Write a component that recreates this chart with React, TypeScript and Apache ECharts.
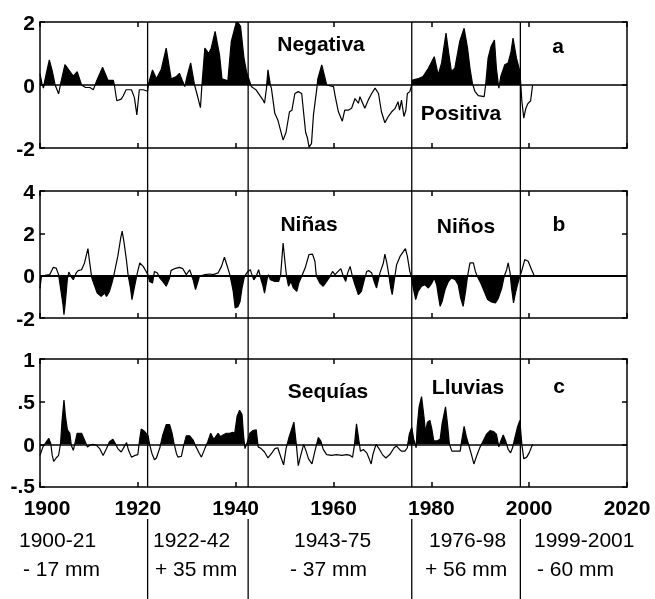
import React, { useEffect, useRef } from "react";
import * as echarts from "echarts";

// Panel a: [year, value]
const seriesA: [number, number][] = [
  [1900.0, 0.35], [1900.4, 0.05], [1900.7, -0.1], [1901.2, 0.3], [1901.9, 0.8], [1902.5, 0.45],
  [1903.1, 0.0], [1903.8, -0.28], [1904.3, 0.1], [1905.1, 0.65], [1905.8, 0.5], [1906.8, 0.28],
  [1907.6, 0.42], [1908.5, 0.0], [1909.3, -0.08], [1910.2, -0.08], [1910.9, -0.15], [1911.5, 0.1],
  [1912.8, 0.56], [1913.9, 0.15], [1915.0, 0.15], [1915.2, 0.0], [1915.7, -0.5], [1916.6, -0.45],
  [1917.0, -0.35], [1917.6, -0.15], [1918.7, -0.15], [1919.3, -0.4], [1919.8, -0.95], [1920.3, -0.15],
  [1921.1, -0.15], [1922.0, -0.2],
  [1922.2, 0.05], [1923.0, 0.48], [1923.8, 0.2], [1924.8, 0.5], [1925.8, 1.17], [1926.8, 0.2],
  [1927.9, 0.27], [1928.5, 0.37], [1929.2, 0.1], [1929.6, -0.05], [1930.1, 0.3], [1930.8, 0.7],
  [1931.6, 0.0], [1932.2, -0.35], [1932.8, -0.72], [1933.1, 0.0], [1933.7, 1.17], [1934.5, 1.0],
  [1935.0, 1.17], [1935.8, 1.7], [1936.7, 0.96], [1937.2, 0.2], [1938.4, 0.13], [1939.1, 1.38],
  [1939.9, 1.86], [1940.4, 2.0], [1941.0, 1.86], [1941.7, 0.85], [1942.2, 0.43], [1943.0, 0.05],
  [1943.2, -0.05], [1944.2, -0.16], [1945.6, -0.48], [1945.9, -0.58], [1946.3, -0.1], [1946.6, 0.48],
  [1947.1, 0.0], [1947.3, -0.1], [1948.0, -0.9], [1948.6, -1.1], [1949.7, -1.75], [1950.3, -1.5],
  [1951.0, -0.85], [1951.5, -0.8], [1952.1, -0.27], [1952.8, -0.21], [1953.5, -0.27], [1953.8, -0.74],
  [1954.3, -1.5], [1954.7, -1.7], [1955.0, -1.97], [1955.5, -1.86], [1955.9, -0.95], [1956.6, -0.1],
  [1956.8, 0.2], [1957.6, 0.64], [1958.3, 0.2], [1958.6, 0.0], [1960.0, -0.05], [1960.3, -0.32],
  [1961.0, -0.85], [1961.8, -1.15], [1962.3, -0.8], [1963.0, -0.8], [1963.7, -0.74], [1964.4, -0.43],
  [1965.1, -0.58], [1965.4, -0.37], [1966.4, -0.74], [1967.1, -0.48], [1967.8, -0.27], [1968.5, -0.1],
  [1969.2, -0.27], [1969.8, -0.85], [1970.5, -1.2], [1971.2, -1.0], [1971.9, -0.85], [1972.6, -0.74],
  [1973.2, -0.53], [1973.5, -0.8], [1973.9, -0.48], [1974.4, -1.0], [1974.8, -0.8], [1975.1, -0.27],
  [1975.6, -0.21], [1976.0, 0.0],
  [1976.2, 0.16], [1977.3, 0.2], [1978.3, 0.27], [1979.4, 0.53], [1980.6, 0.9], [1981.4, 0.32],
  [1982.1, 0.7], [1983.0, 1.65], [1983.6, 0.96], [1984.1, 0.43], [1984.8, 0.53], [1985.8, 1.38],
  [1986.7, 1.8], [1987.4, 1.17], [1987.9, 0.53], [1988.4, 0.05], [1988.9, -0.2], [1989.6, -0.34],
  [1990.8, -0.37], [1991.1, 0.0], [1991.6, 0.85], [1992.2, 1.22], [1992.9, 1.43], [1993.3, 0.53],
  [1993.8, -0.1], [1994.2, 0.27], [1995.0, 0.64], [1995.7, 0.7], [1996.3, 1.06], [1996.7, 1.49],
  [1997.4, 0.85], [1998.1, 0.43], [1998.3, 0.0], [1998.5, -0.5], [1998.9, -1.05], [1999.3, -0.75],
  [1999.7, -0.6], [2000.3, -0.5], [2000.7, 0.0],
];

// Panel b
const seriesB: [number, number][] = [
  [1900.0, -0.6], [1900.3, 0.0], [1901.0, 0.02], [1902.0, 0.05], [1902.7, 0.39], [1903.3, 0.36],
  [1903.8, 0.05], [1904.2, -0.58], [1904.7, -1.37], [1904.9, -1.84], [1905.2, -1.22], [1905.6, -0.14],
  [1905.9, 0.17], [1906.3, -0.03], [1906.8, -0.19], [1907.4, 0.13], [1907.8, 0.24], [1908.5, 0.28],
  [1909.1, 0.6], [1909.8, 1.28], [1910.0, 0.9], [1910.4, 0.2], [1910.6, -0.11], [1911.2, -0.5],
  [1911.7, -0.82], [1912.5, -0.98], [1913.2, -0.82], [1913.6, -0.98], [1914.2, -0.74], [1914.7, -0.35],
  [1915.1, 0.02], [1915.9, 0.91], [1916.5, 1.78], [1916.8, 2.1], [1917.2, 1.54], [1917.7, 0.68],
  [1918.0, 0.05], [1918.5, -0.58], [1918.8, -1.13], [1919.4, -0.43], [1919.9, 0.13], [1920.4, 0.6],
  [1921.1, 0.44], [1921.7, 0.2], [1922.1, 0.02], [1922.4, -0.27], [1923.0, -0.35], [1923.4, 0.2],
  [1924.0, 0.13], [1924.5, -0.11], [1925.1, -0.27], [1925.8, -0.5], [1926.5, -0.11], [1926.8, 0.25],
  [1927.5, 0.33], [1928.5, 0.39], [1929.2, 0.33], [1929.9, 0.05], [1930.6, 0.28], [1930.9, 0.08],
  [1931.3, -0.19], [1931.8, -0.66], [1932.2, -0.35], [1932.6, -0.03], [1933.7, 0.05], [1934.7, 0.08],
  [1935.4, 0.05], [1936.4, 0.13], [1937.1, 0.44], [1937.7, 0.87], [1938.4, 0.36], [1938.8, 0.05],
  [1939.1, -0.27], [1939.5, -0.74], [1939.9, -1.53], [1940.5, -1.45], [1940.9, -1.22], [1941.3, -0.58],
  [1941.8, -0.03], [1942.5, 0.2], [1943.0, 0.28], [1943.2, 0.13], [1943.7, -0.2], [1944.2, -0.03],
  [1944.7, 0.28], [1945.1, -0.11], [1945.6, -0.5], [1945.9, -0.82], [1946.4, -0.19], [1946.7, 0.05],
  [1947.1, -0.19], [1948.0, -0.27], [1948.8, -0.27], [1949.2, 0.05], [1949.7, 1.54], [1950.1, 0.6],
  [1950.4, -0.03], [1950.8, -0.5], [1951.3, -0.27], [1951.8, -0.58], [1952.5, -0.74], [1952.9, -0.35],
  [1953.5, -0.03], [1954.2, 0.36], [1955.0, 1.0], [1955.7, 1.02], [1956.2, 0.68], [1956.5, -0.03],
  [1957.2, -0.35], [1957.9, -0.5], [1958.6, -0.27], [1959.3, -0.03], [1959.8, 0.2], [1960.3, 0.05],
  [1961.1, 0.24], [1961.5, 0.33], [1962.0, -0.03], [1962.5, -0.27], [1962.9, 0.13], [1963.4, 0.44],
  [1963.7, 0.13], [1964.0, -0.14], [1964.5, -0.5], [1965.1, -0.9], [1965.7, -0.74], [1966.3, -0.19],
  [1966.8, 0.2], [1967.2, 0.24], [1967.8, 0.13], [1968.3, -0.27], [1968.8, -0.58], [1969.1, -0.27],
  [1969.5, 0.13], [1970.2, 0.6], [1970.5, 1.02], [1970.9, 0.6], [1971.3, 0.05], [1971.7, -0.58],
  [1972.0, -0.9], [1972.4, -0.27], [1972.9, 0.52], [1973.6, 0.91], [1974.3, 1.15], [1974.7, 1.28],
  [1975.1, 0.91], [1975.6, 0.2], [1975.9, -0.03], [1976.3, -0.58], [1976.8, -1.13], [1977.3, -0.74],
  [1978.0, -0.5], [1978.7, -0.43], [1979.4, -0.58], [1980.1, -0.35], [1980.6, -0.11], [1981.1, -0.43],
  [1981.4, -0.9], [1981.8, -1.45], [1982.2, -1.22], [1982.8, -0.66], [1983.5, -0.27], [1984.1, -0.11],
  [1984.9, -0.19], [1985.5, -0.43], [1986.0, -1.06], [1986.5, -1.45], [1987.0, -0.74], [1987.4, -0.03],
  [1987.9, 0.6], [1988.6, 0.6], [1989.0, 0.2], [1989.5, -0.08], [1990.1, -0.35], [1990.8, -0.74],
  [1991.5, -1.13], [1992.3, -1.24], [1993.1, -1.29], [1993.7, -1.06], [1994.4, -0.58], [1994.9, -0.03],
  [1995.4, 0.28], [1995.7, 0.6], [1996.1, 0.13], [1996.4, -0.58], [1996.8, -1.29], [1997.2, -0.82],
  [1997.6, -0.43], [1998.1, -0.03], [1998.45, 0.2], [1999.1, 0.76], [1999.8, 0.68], [2000.5, 0.28],
  [2001.0, 0.02],
];

// Panel c
const seriesC: [number, number][] = [
  [1900.0, -0.13], [1900.6, -0.03], [1901.3, 0.03], [1901.8, 0.07], [1902.2, 0.01], [1902.5, -0.13],
  [1902.8, -0.2], [1903.3, -0.16], [1903.8, -0.13], [1904.2, 0.01], [1904.5, 0.27], [1904.9, 0.52],
  [1905.2, 0.33], [1905.6, 0.17], [1906.1, 0.13], [1906.4, -0.01], [1906.8, -0.07], [1907.1, 0.0],
  [1907.6, 0.13], [1908.5, 0.13], [1909.1, 0.05], [1909.7, -0.03], [1910.2, -0.01], [1910.8, 0.0],
  [1911.5, -0.01], [1912.2, -0.05], [1912.9, -0.13], [1913.6, -0.05], [1914.2, 0.03], [1914.9, 0.06],
  [1915.4, 0.01], [1915.9, -0.05], [1916.6, -0.09], [1917.2, -0.03], [1917.7, 0.02], [1918.1, -0.07],
  [1918.7, -0.15], [1919.4, -0.13], [1920.0, -0.12], [1920.4, 0.07], [1920.7, 0.18], [1921.4, 0.15],
  [1922.1, 0.1], [1922.4, 0.0], [1922.9, -0.11], [1923.4, -0.18], [1923.8, -0.16], [1924.5, -0.04],
  [1925.1, 0.11], [1925.8, 0.23], [1926.5, 0.23], [1927.0, 0.13], [1927.4, 0.01], [1927.9, -0.11],
  [1928.2, -0.15], [1928.9, -0.14], [1929.4, -0.01], [1929.9, 0.1], [1930.6, 0.1], [1931.3, 0.05],
  [1931.9, -0.03], [1932.6, -0.11], [1933.0, -0.15], [1933.7, -0.05], [1934.3, 0.03], [1934.9, 0.13],
  [1935.4, 0.07], [1935.7, 0.07], [1936.4, 0.13], [1936.9, 0.09], [1937.4, 0.11], [1938.1, 0.13],
  [1938.8, 0.13], [1939.4, 0.14], [1939.8, 0.13], [1940.3, 0.33], [1940.8, 0.4], [1941.3, 0.35],
  [1941.6, 0.11], [1941.9, -0.05], [1942.4, 0.03], [1942.9, 0.13], [1943.5, 0.16], [1944.2, 0.17],
  [1944.6, -0.03], [1945.2, -0.05], [1945.9, -0.09], [1946.6, -0.16], [1947.3, -0.11], [1948.0, -0.05],
  [1948.6, -0.04], [1949.3, -0.16], [1949.8, -0.24], [1950.3, -0.05], [1950.9, 0.08], [1951.9, 0.26],
  [1952.4, 0.0], [1952.8, -0.25], [1953.3, -0.13], [1953.9, 0.0], [1954.4, -0.08], [1954.9, -0.17],
  [1955.6, -0.23], [1956.2, -0.08], [1956.9, 0.08], [1957.4, 0.04], [1957.9, -0.06], [1958.6, -0.12],
  [1959.6, -0.13], [1960.6, -0.12], [1961.7, -0.13], [1962.7, -0.12], [1963.4, -0.13], [1963.9, -0.15],
  [1964.3, 0.0], [1964.7, 0.24], [1965.2, 0.04], [1965.5, -0.08], [1966.1, -0.06], [1966.8, -0.1],
  [1967.3, -0.17], [1967.7, -0.23], [1968.1, -0.11], [1968.7, 0.0], [1969.4, -0.06], [1970.0, -0.12],
  [1970.7, -0.16], [1971.5, -0.12], [1972.4, -0.04], [1972.9, -0.02], [1973.5, -0.06], [1973.9, -0.08],
  [1974.6, -0.08], [1975.1, -0.04], [1975.5, 0.12], [1976.0, 0.2], [1976.4, 0.06], [1976.9, -0.04],
  [1977.1, 0.2], [1977.5, 0.44], [1978.0, 0.56], [1978.5, 0.32], [1978.8, 0.14], [1979.2, 0.26],
  [1979.7, 0.28], [1980.1, 0.18], [1980.5, 0.04], [1981.1, 0.04], [1981.8, 0.06], [1982.2, 0.24],
  [1982.9, 0.44], [1983.3, 0.24], [1983.7, 0.0], [1984.2, -0.08], [1985.2, -0.08], [1985.9, -0.08],
  [1986.2, 0.04], [1986.7, 0.21], [1987.2, 0.08], [1987.8, -0.04], [1988.2, -0.12], [1988.7, -0.23],
  [1989.3, -0.13], [1989.9, -0.04], [1990.6, 0.04], [1991.3, 0.12], [1992.0, 0.16], [1992.7, 0.15],
  [1993.3, 0.12], [1993.8, -0.03], [1994.2, 0.04], [1994.7, 0.11], [1995.2, 0.04], [1995.7, -0.06],
  [1996.2, -0.1], [1996.6, -0.04], [1997.1, 0.08], [1997.6, 0.2], [1998.1, 0.28], [1998.5, 0.0],
  [1998.9, -0.17], [1999.5, -0.15], [2000.0, -0.1], [2000.7, 0.0],
];

const dividerYears = [1922, 1942.55, 1976, 1998.2];
const xTicks = { min: 1900, max: 2020, interval: 20 };
const yRanges = [
  { min: -2, max: 2, interval: 2 },
  { min: -2, max: 4, interval: 2 },
  { min: -0.5, max: 1, interval: 0.5 },
];
const panelLabels = [
  { text: "Negativa", x: 321, y: 43 },
  { text: "Positiva", x: 461, y: 112 },
  { text: "a", x: 558, y: 45 },
  { text: "Niñas", x: 309, y: 223 },
  { text: "Niños", x: 466, y: 225 },
  { text: "b", x: 559, y: 223 },
  { text: "Sequías", x: 328, y: 390 },
  { text: "Lluvias", x: 468, y: 386 },
  { text: "c", x: 559, y: 385 },
];
const periodLabels = [
  { range: "1900-21", change: "- 17 mm", x1: 19, x2: 23 },
  { range: "1922-42", change: "+ 35 mm", x1: 153, x2: 155 },
  { range: "1943-75", change: "- 37 mm", x1: 294, x2: 290 },
  { range: "1976-98", change: "+ 56 mm", x1: 429, x2: 425 },
  { range: "1999-2001", change: "- 60 mm", x1: 534, x2: 537 },
];

const FONT = "'Liberation Sans', Arial, Helvetica, sans-serif";

function clipSeries(data: [number, number][], sign: number): [number, number][] {
  const out: [number, number][] = [];
  for (let i = 0; i < data.length; i++) {
    const [x, v] = data[i];
    if (i > 0) {
      const [px, pv] = data[i - 1];
      if ((pv * sign > 0 && v * sign < 0) || (pv * sign < 0 && v * sign > 0)) {
        const t = pv / (pv - v);
        out.push([px + t * (x - px), 0]);
      }
    }
    out.push([x, sign > 0 ? Math.max(v, 0) : Math.min(v, 0)]);
  }
  return out;
}

export default function App() {
  const ref = useRef<HTMLDivElement>(null);
  useEffect(() => {
    document.body.style.margin = "0";
    const chart = echarts.init(ref.current!, null, { renderer: "svg" });
    const grids = [
      { left: 40, top: 22, width: 587, height: 126 },
      { left: 40, top: 191, width: 587, height: 127 },
      { left: 40, top: 359, width: 587, height: 128 },
    ];
    const lineAxis = { show: true, onZero: false, lineStyle: { color: "#000", width: 1.5 } };
    const tick = { show: true, inside: true, length: 5, lineStyle: { color: "#000", width: 1.5 } };
    const boldLabel = { color: "#000", fontFamily: FONT, fontWeight: "bold", fontSize: 21 };
    const xAxis: any[] = [];
    const yAxis: any[] = [];
    grids.forEach((_, i) => {
      xAxis.push({
        type: "value", gridIndex: i, position: "bottom", ...xTicks,
        axisLine: lineAxis, axisTick: tick, splitLine: { show: false },
        axisLabel: {
          show: i === 2, margin: 11, ...boldLabel, lineHeight: 18,
          formatter: (v: number) => (v === xTicks.min ? `{first|${v}}` : String(v)),
          rich: { first: { padding: [0, 0, 0, 14], ...boldLabel, lineHeight: 18 } },
        },
      });
      xAxis.push({
        type: "value", gridIndex: i, position: "top", ...xTicks,
        axisLine: lineAxis, axisTick: tick, splitLine: { show: false }, axisLabel: { show: false },
      });
      yAxis.push({
        type: "value", gridIndex: i, position: "left", ...yRanges[i],
        axisLine: lineAxis, axisTick: tick, splitLine: { show: false },
        axisLabel: {
          margin: 5, ...boldLabel, lineHeight: 16,
          formatter: (v: number) => {
            if (i !== 2) return String(v);
            const s = String(v).replace(/^(-?)0\./, "$1.");
            return v === yRanges[2].min ? `{low|${s}}` : s;
          },
          rich: { low: { padding: [0, 0, 4, 0], ...boldLabel, lineHeight: 16 } },
        },
      });
      yAxis.push({
        type: "value", gridIndex: i, position: "right", ...yRanges[i],
        axisLine: lineAxis, axisTick: tick, splitLine: { show: false }, axisLabel: { show: false },
      });
    });
    const allData = [seriesA, seriesB, seriesC];
    const signs = [1, -1, 1];
    const series: any[] = [];
    allData.forEach((d, i) => {
      series.push({
        type: "line", xAxisIndex: 2 * i, yAxisIndex: 2 * i, data: clipSeries(d, signs[i]),
        symbol: "none", lineStyle: { width: 0 }, areaStyle: { color: "#000", opacity: 1 },
        silent: true, z: 1,
      });
      series.push({
        type: "line", xAxisIndex: 2 * i, yAxisIndex: 2 * i, data: d,
        symbol: "none", lineStyle: { color: "#000", width: 1.2 }, silent: true, z: 2,
        markLine: {
          silent: true, symbol: ["none", "none"], label: { show: false },
          lineStyle: { color: "#000", width: i === 1 ? 2 : 1.5, type: "solid" },
          data: [{ yAxis: 0 }],
        },
      });
    });
    chart.setOption({ animation: false, grid: grids, xAxis, yAxis, series });

    const yTop = chart.convertToPixel({ yAxisIndex: 0 }, 2) as number;
    const yBot = chart.convertToPixel({ yAxisIndex: 4 }, -0.5) as number;
    const graphic: any[] = [];
    dividerYears.forEach((yr) => {
      const px = chart.convertToPixel({ xAxisIndex: 0 }, yr) as number;
      graphic.push({ type: "line", shape: { x1: px, y1: yTop, x2: px, y2: yBot }, style: { stroke: "#000", lineWidth: 1.3 }, z: 10 });
      graphic.push({ type: "line", shape: { x1: px, y1: yBot + 32, x2: px, y2: 599 }, style: { stroke: "#000", lineWidth: 1.3 }, z: 10 });
    });
    panelLabels.forEach((l) => {
      graphic.push({
        type: "text", x: l.x, y: l.y, z: 20,
        style: { text: l.text, fill: "#000", font: `bold 21px ${FONT}`, align: "center", verticalAlign: "middle" },
      });
    });
    periodLabels.forEach((p) => {
      graphic.push({
        type: "text", x: p.x1, y: 539, z: 20,
        style: { text: p.range, fill: "#000", font: `21px ${FONT}`, align: "left", verticalAlign: "middle" },
      });
      graphic.push({
        type: "text", x: p.x2, y: 568, z: 20,
        style: { text: p.change, fill: "#000", font: `21px ${FONT}`, align: "left", verticalAlign: "middle" },
      });
    });
    chart.setOption({ graphic });
    return () => chart.dispose();
  }, []);
  return <div ref={ref} style={{ position: "fixed", left: 0, top: 0, width: 655, height: 599 }} />;
}
